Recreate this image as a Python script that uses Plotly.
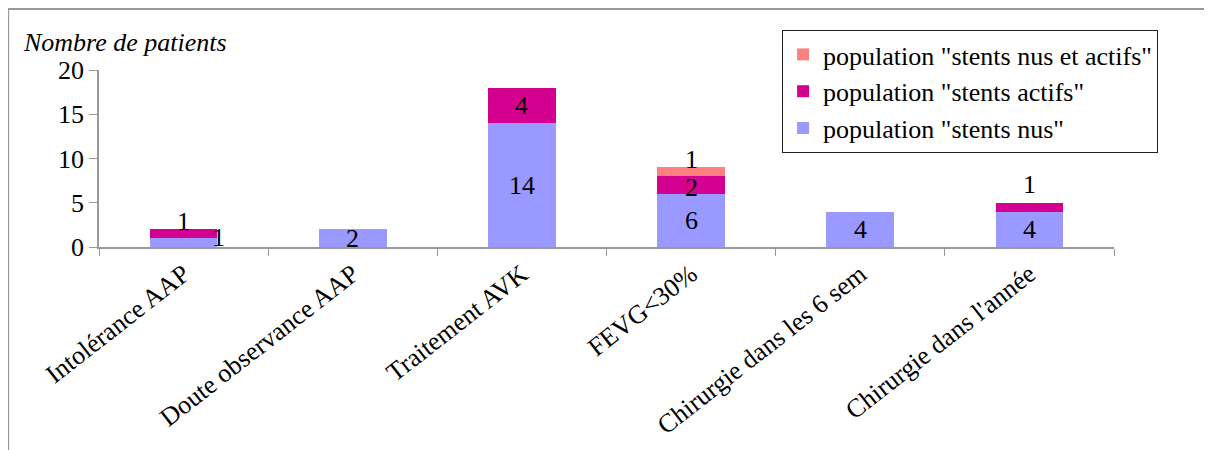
import plotly.graph_objects as go

categories = ["Intolérance AAP", "Doute observance AAP", "Traitement AVK",
              "FEVG<30%", "Chirurgie dans les 6 sem", "Chirurgie dans l'année"]
nus = [1, 2, 14, 6, 4, 4]
actifs = [1, 0, 4, 2, 0, 1]
nus_actifs = [0, 0, 0, 1, 0, 0]
y_ticks = [0, 5, 10, 15, 20]

names = ['population "stents nus"', 'population "stents actifs"', 'population "stents nus et actifs"']
colors = ["#9999FF", "#D4008F", "#FF8080"]
series = [nus, actifs, nus_actifs]

# label offsets (pixels) for labels moved away from segment centre
label_shift = {(0, 0): (35, 5), (0, 1): (0, 12), (3, 1): (0, -2), (3, 2): (0, 12), (5, 1): (0, 23)}

FONT = "Liberation Serif"
FS = 26
fig = go.Figure()
for name, col, vals in zip(names, colors, series):
    fig.add_trace(go.Bar(x=categories, y=vals, name=name, marker=dict(color=col, line=dict(width=0))))

base = [0] * len(categories)
annotations = []
for si, vals in enumerate(series):
    for i, v in enumerate(vals):
        if v > 0:
            xs, ys = label_shift.get((i, si), (0, 0))
            annotations.append(dict(x=categories[i], y=base[i] + v / 2, text=str(v), showarrow=False,
                                    xshift=xs, yshift=ys, font=dict(family=FONT, size=FS, color="black")))
        base[i] += v

annotations.append(dict(x=-0.077, y=1.158, xref="paper", yref="paper", xanchor="left", yanchor="middle",
                        text="<i>Nombre de patients</i>", showarrow=False,
                        font=dict(family=FONT, size=FS, color="black")))

fig.update_layout(
    barmode="stack",
    bargap=0.6,
    width=1204, height=442,
    margin=dict(l=91, r=98, t=62, b=203, autoexpand=False),
    paper_bgcolor="white", plot_bgcolor="white",
    font=dict(family=FONT, size=FS, color="black"),
    annotations=annotations,
    showlegend=True,
    legend=dict(traceorder="reversed", x=0.673, y=1.226, xanchor="left", yanchor="top",
                bordercolor="#222222", borderwidth=1, bgcolor="white",
                font=dict(family=FONT, size=FS), itemwidth=30, tracegroupgap=0),
    xaxis=dict(showline=True, linecolor="#999999", linewidth=1.5, ticks="outside", tickson="boundaries",
               ticklen=7, tickcolor="#999999", tickangle=-38, tickfont=dict(family=FONT, size=FS),
               showgrid=False, automargin=False),
    yaxis=dict(range=[0, 20], tickvals=y_ticks, showline=True, linecolor="#999999", linewidth=1.5,
               ticks="outside", ticklen=8, tickcolor="#999999", showgrid=False, zeroline=False,
               tickfont=dict(family=FONT, size=FS), automargin=False),
    shapes=[dict(type="rect", xref="paper", yref="paper", x0=-0.0895, x1=1.2, y0=-2.0, y1=1.345,
                 line=dict(color="#999999", width=2), fillcolor="rgba(0,0,0,0)", layer="below")],
)

fig.write_html("out.html")
